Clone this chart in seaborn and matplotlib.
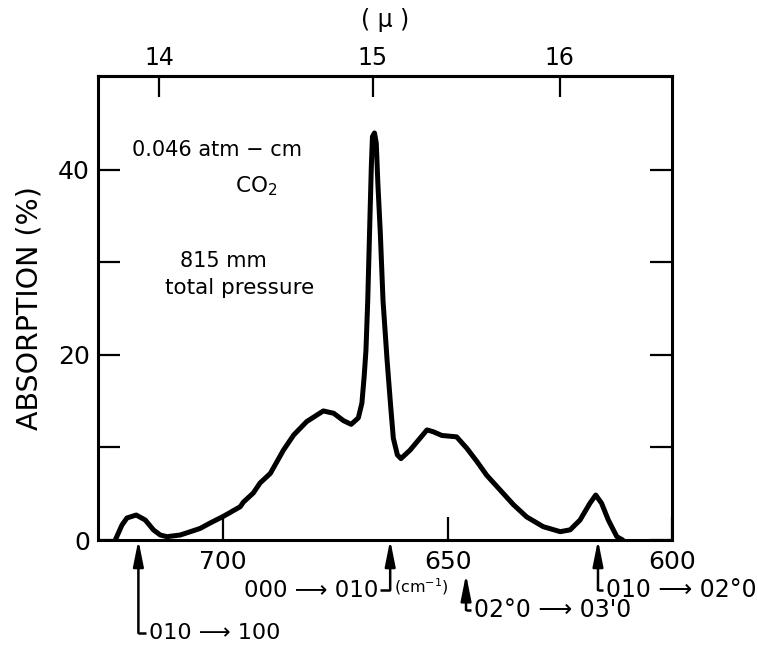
import numpy as np
import pandas as pd
import matplotlib
matplotlib.use("Agg")
import matplotlib.pyplot as plt
import seaborn as sns

# ---- data ----
wavenumber = [724.05, 722.56, 721.45, 719.38, 717.37, 715.52, 714.03, 712.54, 709.58, 706.68,
              705.1, 702.9, 700.0, 696.2, 695.5, 693.3, 691.8, 689.5, 686.6, 684.3,
              681.4, 677.7, 675.4, 673.2, 671.5, 669.9, 669.1, 668.6, 668.2, 667.8,
              667.4, 667.0, 666.75, 666.3, 665.9, 665.55, 665.0, 664.4, 663.5, 662.7,
              662.1, 661.2, 660.4, 658.4, 656.5, 654.6, 653.2, 651.3, 648.0, 645.7,
              643.5, 641.3, 638.3, 635.3, 632.4, 628.7, 624.9, 622.7, 620.5, 618.3,
              617.0, 615.7, 614.2, 612.3, 611.0]
absorption = [0.0, 1.62, 2.38, 2.70, 2.16, 1.08, 0.54, 0.36, 0.54, 1.0,
              1.26, 1.84, 2.55, 3.6, 4.1, 5.08, 6.16, 7.2, 9.7, 11.35,
              12.8, 13.95, 13.7, 12.9, 12.5, 13.2, 14.8, 17.65, 20.5, 25.9,
              33.2, 40.4, 43.6, 44.0, 42.9, 38.6, 33.2, 25.9, 19.5, 14.5,
              11.0, 9.2, 8.8, 9.7, 10.8, 11.9, 11.7, 11.3, 11.15, 9.9,
              8.5, 7.0, 5.4, 3.8, 2.5, 1.44, 0.9, 1.1, 2.16, 3.97,
              4.86, 3.97, 2.16, 0.36, 0.0]

x_ticks = [700, 650, 600]
x_tick_labels = ["700", "650", "600"]
y_ticks = [0, 10, 20, 30, 40]
y_tick_labels = ["0", "", "20", "", "40"]
micron_ticks = [14, 15, 16]
micron_tick_labels = ["14", "15", "16"]

transition_labels = ["010 ⟶ 100", "000 ⟶ 010", "02°0 ⟶ 03'0", "010 ⟶ 02°0"]
transition_positions = [718.9, 662.8, 645.9, 616.5]

# ---- style ----
sns.set_theme(style="ticks")
plt.rcParams['font.family'] = ['DejaVu Sans']
plt.rcParams['text.color'] = 'black'
plt.rcParams['axes.edgecolor'] = 'black'

fig = plt.figure(figsize=(7.58, 6.51), dpi=100)
fig.patch.set_facecolor('white')
ax = fig.add_axes([0.1287, 0.1705, 0.7579, 0.712])

df = pd.DataFrame({"wavenumber": wavenumber, "absorption": absorption})
sns.lineplot(data=df, x="wavenumber", y="absorption", ax=ax, color="black",
             lw=3.6, sort=False, solid_joinstyle="round", solid_capstyle="round")

ax.set_xlim(728.0, 600.0)
ax.set_ylim(0, 50.1)

for sp in ax.spines.values():
    sp.set_linewidth(2.2)
    sp.set_color('black')

ax.set_xticks(x_ticks)
ax.set_xticklabels(x_tick_labels)
ax.set_yticks(y_ticks)
ax.set_yticklabels(y_tick_labels)
ax.tick_params(axis='x', which='both', bottom=True, top=False, direction='in',
               length=16.5, width=1.6, labelsize=18, pad=7, colors='black')
ax.tick_params(axis='y', which='both', left=True, right=True, direction='in',
               length=15.5, width=1.6, labelsize=18, pad=5.5, colors='black')
ax.set_xlabel("")
ax.set_ylabel("ABSORPTION (%)", fontsize=20.5, color='black')
ax.yaxis.set_label_coords(-0.094, 0.5)


def conv(x):
    x = np.asarray(x, dtype=float)
    with np.errstate(divide='ignore', invalid='ignore'):
        return 1e4 / x


secax = ax.secondary_xaxis('top', functions=(conv, conv))
secax.set_xticks(micron_ticks)
secax.set_xticklabels(micron_tick_labels)
secax.tick_params(axis='x', direction='in', length=15, width=1.6, labelsize=17,
                  pad=5, colors='black')
secax.spines['top'].set_linewidth(2.2)
secax.set_xlabel("( μ )", fontsize=17, labelpad=13, color='black')

# ---- in-plot annotations ----
ax.text(0.208, 0.841, "0.046 atm − cm", transform=ax.transAxes, fontsize=15,
        ha='center', va='center')
ax.text(0.239, 0.751, "CO$_2$", transform=ax.transAxes, fontsize=15.5,
        ha='left', va='baseline')
ax.text(0.1436, 0.602, "815 mm", transform=ax.transAxes, fontsize=15,
        ha='left', va='center')
ax.text(0.1175, 0.544, "total pressure", transform=ax.transAxes, fontsize=15.5,
        ha='left', va='center')

# ---- transition arrows below the axis ----
blend = ax.get_xaxis_transform()
arrow_bottom = [-0.2006, -0.108, -0.151, -0.108]
arrow_tip = [0.0, 0.0, -0.074, 0.0]
connector_dx = [-1.8, 2.2, -1.2, -1.2]
text_side = ['left', 'right', 'left', 'left']
label_size = [16, 16.5, 17, 17]

for lab, pos, yb, yt, dx, side, fs in zip(transition_labels, transition_positions,
                                          arrow_bottom, arrow_tip, connector_dx,
                                          text_side, label_size):
    ax.annotate("", xy=(pos, yt), xycoords=blend, xytext=(pos, yb), textcoords=blend,
                arrowprops=dict(arrowstyle='-|>,head_length=1.3,head_width=0.26',
                                color='black', lw=1.8, shrinkA=0, shrinkB=0),
                annotation_clip=False)
    ax.plot([pos, pos + dx], [yb, yb], transform=blend, color='black', lw=1.8,
            clip_on=False, solid_capstyle='butt')
    tx = pos + dx + (-0.5 if side == 'left' else 0.5)
    ax.text(tx, yb, lab, transform=blend, fontsize=fs, ha=side, va='center',
            clip_on=False)

ax.text(655.9, -0.100, "(cm$^{-1}$)", transform=blend, fontsize=11.5,
        ha='center', va='center', clip_on=False)

fig.savefig("out.png", dpi=100, facecolor='white')
